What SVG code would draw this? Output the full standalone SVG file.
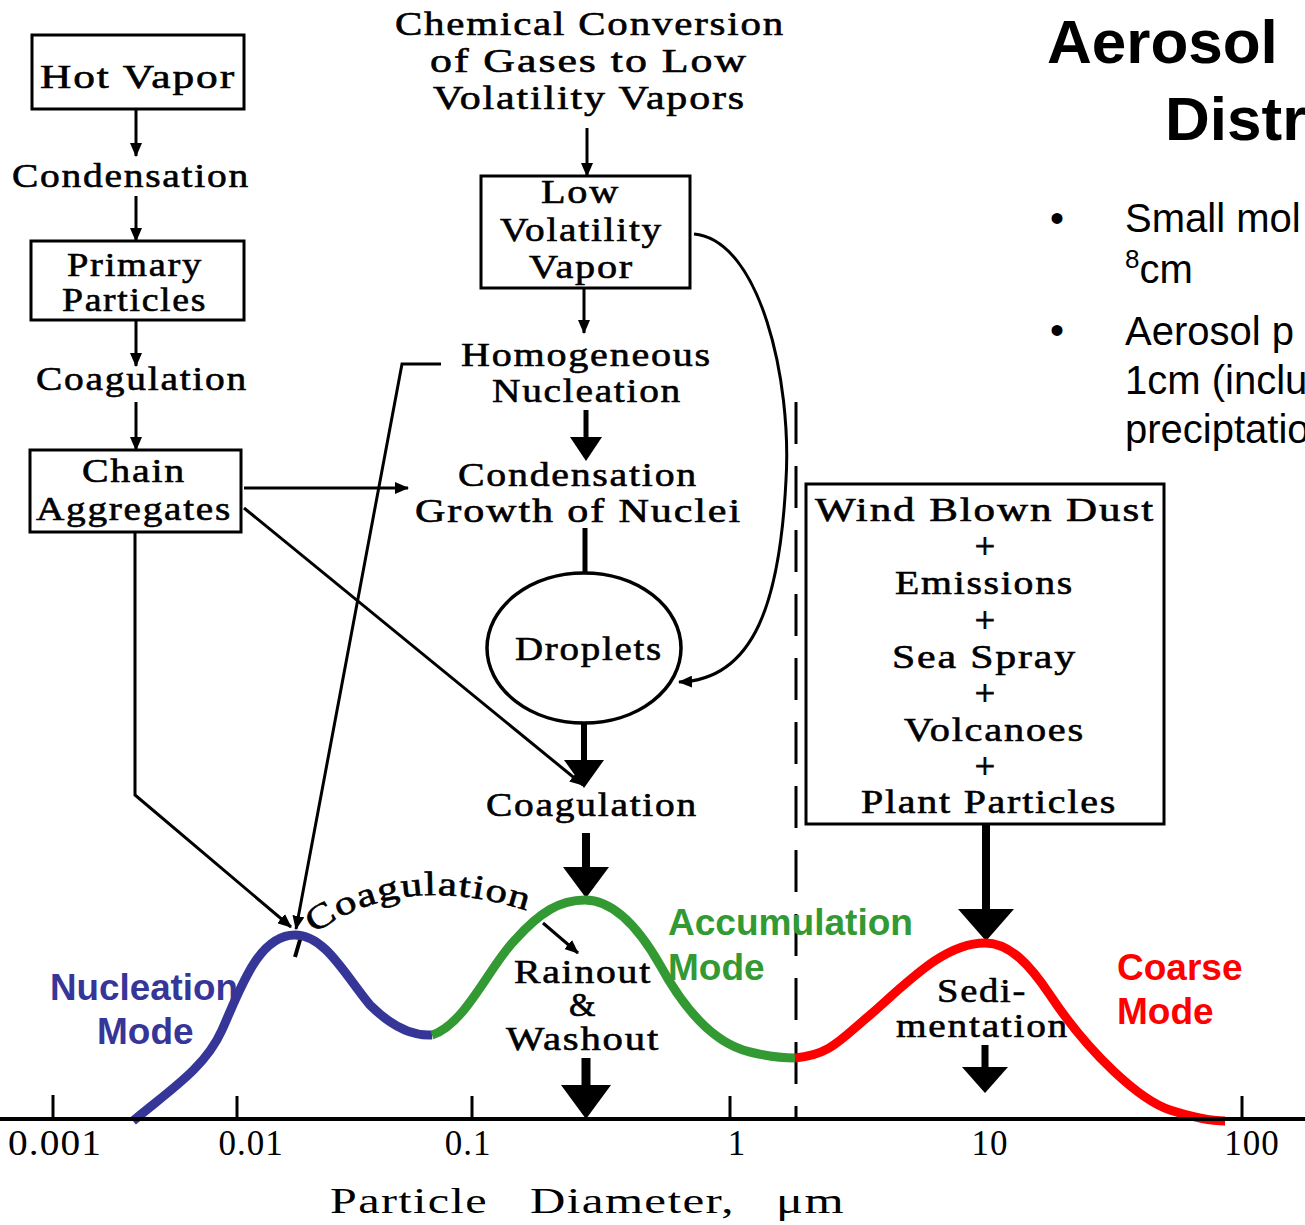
<svg xmlns="http://www.w3.org/2000/svg" width="1305" height="1225" viewBox="0 0 1305 1225">
<defs>
<style>
.t{font-family:"Liberation Serif","Times New Roman",serif;font-size:34px;letter-spacing:1.5px;fill:#000;stroke:#000;stroke-width:0.6}
.ax{font-family:"Liberation Serif","Times New Roman",serif;font-size:35px;letter-spacing:1px;fill:#000}
.box{fill:#fff;stroke:#000;stroke-width:3}
.ln{fill:none;stroke:#000;stroke-width:3}
.th{fill:none;stroke:#000}
.sans{font-family:"Liberation Sans",Arial,sans-serif}
.mode{font-family:"Liberation Sans",Arial,sans-serif;font-weight:bold;font-size:37px}
.plus{font-family:"Liberation Serif","Times New Roman",serif;font-size:36px;fill:#000;stroke:#000;stroke-width:0.8}
</style>
<marker id="ah" viewBox="0 0 14 12" refX="13" refY="6" markerWidth="14" markerHeight="12" markerUnits="userSpaceOnUse" orient="auto">
<path d="M0,0 L14,6 L0,12 Z" fill="#000"/>
</marker>
</defs>
<rect width="1305" height="1225" fill="#fff"/>

<!-- title and bullets -->
<g id="title">
<text class="sans" x="1047" y="63" font-size="62" font-weight="bold">Aerosol</text>
<text class="sans" x="1165" y="140" font-size="62" font-weight="bold">Distr</text>
</g>
<g id="bullets" class="sans" font-size="40">
<text x="1050" y="232">•</text>
<text x="1125" y="232">Small mol</text>
<text x="1125" y="283"><tspan font-size="26" dy="-15">8</tspan><tspan dy="15">cm</tspan></text>
<text x="1050" y="344">•</text>
<text x="1125" y="345">Aerosol p</text>
<text x="1125" y="394">1cm (inclu</text>
<text x="1125" y="443">preciptatio</text>
</g>

<!-- connectors -->
<g id="connectors">
<line class="ln" x1="136" y1="109" x2="136" y2="156" marker-end="url(#ah)"/>
<line class="ln" x1="136" y1="196" x2="136" y2="241" marker-end="url(#ah)"/>
<line class="ln" x1="136" y1="320" x2="136" y2="366" marker-end="url(#ah)"/>
<line class="ln" x1="136" y1="402" x2="136" y2="450" marker-end="url(#ah)"/>
<line class="ln" x1="244" y1="488" x2="408" y2="488" marker-end="url(#ah)"/>
<line class="ln" x1="244" y1="508" x2="583" y2="785" marker-end="url(#ah)"/>
<polyline class="ln" points="135,532 135,795 291,927" marker-end="url(#ah)"/>
<polyline class="ln" points="441,364 402,364 296,929" marker-end="url(#ah)"/>
<line class="ln" x1="587" y1="128" x2="587" y2="176" marker-end="url(#ah)"/>
<line class="ln" x1="584" y1="288" x2="584" y2="333" marker-end="url(#ah)"/>
<path class="ln" d="M694,234 C760,240 792,380 786,480 C780,600 755,680 679,682" marker-end="url(#ah)"/>
<!-- HN -> Condensation -->
<line class="th" stroke-width="5" x1="586" y1="410" x2="586" y2="440"/>
<polygon points="570,437 602,437 586,461"/>
<!-- Condensation growth -> droplets -->
<line class="th" stroke-width="5" x1="585" y1="528" x2="585" y2="574"/>
<!-- droplets -> coagulation -->
<line class="th" stroke-width="6" x1="584" y1="723" x2="584" y2="762"/>
<polygon points="564,760 604,760 584,788"/>
<!-- coagulation -> accumulation peak -->
<line class="th" stroke-width="8" x1="586" y1="833" x2="586" y2="870"/>
<polygon points="563,867 609,867 586,898"/>
<!-- rainout -> axis -->
<line class="th" stroke-width="9" x1="586" y1="1058" x2="586" y2="1088"/>
<polygon points="561,1085 611,1085 586,1119"/>
<!-- sources -> coarse peak -->
<line class="th" stroke-width="8" x1="986" y1="824" x2="986" y2="912"/>
<polygon points="958,909 1014,909 986,941"/>
<!-- sedimentation -> axis -->
<line class="th" stroke-width="7" x1="985" y1="1045" x2="985" y2="1070"/>
<polygon points="962,1067 1008,1067 985,1093"/>
<!-- coagulation along curve -->
<line class="th" stroke-width="4" x1="295" y1="957" x2="302" y2="933"/>
<line class="ln" x1="543" y1="923" x2="578" y2="953" marker-end="url(#ah)"/>
</g>

<!-- dashed divider -->
<line id="divider" x1="796" y1="402" x2="796" y2="1118" stroke="#000" stroke-width="3" stroke-dasharray="42 22"/>

<!-- nodes -->
<g id="hot-vapor">
<rect class="box" x="32" y="35" width="212" height="74"/>
<text class="t" x="40" y="88" textLength="196" lengthAdjust="spacingAndGlyphs">Hot  Vapor</text>
</g>
<g id="condensation-left">
<text class="t" x="12" y="187" textLength="238" lengthAdjust="spacingAndGlyphs">Condensation</text>
</g>
<g id="primary-particles">
<rect class="box" x="31" y="241" width="213" height="79"/>
<text class="t" x="67" y="276" textLength="136" lengthAdjust="spacingAndGlyphs">Primary</text>
<text class="t" x="62" y="311" textLength="145" lengthAdjust="spacingAndGlyphs">Particles</text>
</g>
<g id="coagulation-left">
<text class="t" x="36" y="390" textLength="212" lengthAdjust="spacingAndGlyphs">Coagulation</text>
</g>
<g id="chain-aggregates">
<rect class="box" x="30" y="450" width="211" height="82"/>
<text class="t" x="82" y="482" textLength="104" lengthAdjust="spacingAndGlyphs">Chain</text>
<text class="t" x="36" y="520" textLength="196" lengthAdjust="spacingAndGlyphs">Aggregates</text>
</g>
<g id="chemical-conversion">
<text class="t" x="395" y="35" textLength="390" lengthAdjust="spacingAndGlyphs">Chemical  Conversion</text>
<text class="t" x="430" y="72" textLength="318" lengthAdjust="spacingAndGlyphs">of  Gases  to  Low</text>
<text class="t" x="433" y="109" textLength="313" lengthAdjust="spacingAndGlyphs">Volatility  Vapors</text>
</g>
<g id="low-volatility-vapor">
<rect class="box" x="481" y="176" width="209" height="112"/>
<text class="t" x="541" y="203" textLength="79" lengthAdjust="spacingAndGlyphs">Low</text>
<text class="t" x="500" y="241" textLength="163" lengthAdjust="spacingAndGlyphs">Volatility</text>
<text class="t" x="529" y="278" textLength="105" lengthAdjust="spacingAndGlyphs">Vapor</text>
</g>
<g id="homogeneous-nucleation">
<text class="t" x="461" y="366" textLength="251" lengthAdjust="spacingAndGlyphs">Homogeneous</text>
<text class="t" x="492" y="402" textLength="190" lengthAdjust="spacingAndGlyphs">Nucleation</text>
</g>
<g id="condensation-growth">
<text class="t" x="458" y="486" textLength="240" lengthAdjust="spacingAndGlyphs">Condensation</text>
<text class="t" x="415" y="522" textLength="327" lengthAdjust="spacingAndGlyphs">Growth  of  Nuclei</text>
</g>
<g id="droplets">
<ellipse cx="584" cy="648" rx="97" ry="75" fill="#fff" stroke="#000" stroke-width="3.5"/>
<text class="t" x="515" y="660" textLength="148" lengthAdjust="spacingAndGlyphs">Droplets</text>
</g>
<g id="coagulation-center">
<text class="t" x="486" y="816" textLength="212" lengthAdjust="spacingAndGlyphs">Coagulation</text>
</g>
<g id="sources">
<rect class="box" x="806" y="484" width="358" height="340"/>
<text class="t" x="815" y="521" textLength="340" lengthAdjust="spacingAndGlyphs">Wind  Blown  Dust</text>
<text class="plus" x="985" y="558" text-anchor="middle">+</text>
<text class="t" x="895" y="594" textLength="179" lengthAdjust="spacingAndGlyphs">Emissions</text>
<text class="plus" x="985" y="632" text-anchor="middle">+</text>
<text class="t" x="892" y="668" textLength="185" lengthAdjust="spacingAndGlyphs">Sea  Spray</text>
<text class="plus" x="985" y="705" text-anchor="middle">+</text>
<text class="t" x="904" y="741" textLength="181" lengthAdjust="spacingAndGlyphs">Volcanoes</text>
<text class="plus" x="985" y="778" text-anchor="middle">+</text>
<text class="t" x="861" y="813" textLength="256" lengthAdjust="spacingAndGlyphs">Plant  Particles</text>
</g>

<!-- size distribution curve -->
<g id="curve" fill="none" stroke-width="9">
<path stroke="#363699" d="M133,1121 C170,1090 205,1068 222,1030 C240,990 258,935 295,935 C325,935 345,975 370,1005 C395,1030 415,1036 432,1035"/>
<path stroke="#339933" d="M432,1035 C465,1025 490,965 515,940 C540,912 560,900 585,900 C615,900 640,930 660,965 C690,1020 720,1045 750,1052 C770,1057 785,1058 795,1058"/>
<path stroke="#ff0000" d="M795,1058 C830,1055 840,1040 870,1015 C910,980 945,943 985,943 C1010,943 1030,965 1050,995 C1090,1055 1140,1100 1170,1110 C1195,1118 1215,1121 1225,1121"/>
</g>

<g id="coagulation-arc">
<path id="arc" d="M314,934 Q405,868 537,914" fill="none"/>
<text class="t" font-size="35" style="letter-spacing:1px"><textPath href="#arc" textLength="224" lengthAdjust="spacingAndGlyphs">Coagulation</textPath></text>
</g>
<g id="rainout">
<text class="t" x="514" y="983" textLength="138" lengthAdjust="spacingAndGlyphs">Rainout</text>
<text class="t" x="583" y="1016" text-anchor="middle" font-size="31">&amp;</text>
<text class="t" x="506" y="1050" textLength="154" lengthAdjust="spacingAndGlyphs">Washout</text>
</g>
<g id="sedimentation">
<text class="t" x="937" y="1002" textLength="90" lengthAdjust="spacingAndGlyphs">Sedi-</text>
<text class="t" x="896" y="1037" textLength="173" lengthAdjust="spacingAndGlyphs">mentation</text>
</g>

<g id="mode-labels" class="mode">
<text x="50" y="1000" fill="#363699" textLength="188" lengthAdjust="spacingAndGlyphs">Nucleation</text>
<text x="97" y="1044" fill="#363699">Mode</text>
<text x="668" y="935" fill="#339933" textLength="245" lengthAdjust="spacingAndGlyphs">Accumulation</text>
<text x="668" y="980" fill="#339933">Mode</text>
<text x="1117" y="980" fill="#ff0000">Coarse</text>
<text x="1117" y="1024" fill="#ff0000">Mode</text>
</g>

<!-- axis -->
<g id="axis">
<line x1="0" y1="1119" x2="1305" y2="1119" stroke="#000" stroke-width="4"/>
<g stroke="#000" stroke-width="3">
<line x1="53" y1="1095" x2="53" y2="1119"/>
<line x1="237" y1="1096" x2="237" y2="1119"/>
<line x1="472" y1="1096" x2="472" y2="1119"/>
<line x1="730" y1="1096" x2="730" y2="1119"/>
<line x1="1242" y1="1096" x2="1242" y2="1119"/>
</g>
<text class="ax" x="8" y="1155" textLength="94" lengthAdjust="spacingAndGlyphs">0.001</text>
<text class="ax" x="251" y="1155" text-anchor="middle">0.01</text>
<text class="ax" x="468" y="1155" text-anchor="middle">0.1</text>
<text class="ax" x="737" y="1155" text-anchor="middle">1</text>
<text class="ax" x="990" y="1155" text-anchor="middle">10</text>
<text class="ax" x="1252" y="1155" text-anchor="middle">100</text>
<text class="ax" y="1213" font-size="43"><tspan x="330" textLength="158" lengthAdjust="spacingAndGlyphs">Particle</tspan><tspan x="530" textLength="205" lengthAdjust="spacingAndGlyphs">Diameter,</tspan><tspan x="776" textLength="69" lengthAdjust="spacingAndGlyphs">μm</tspan></text>
</g>
</svg>
